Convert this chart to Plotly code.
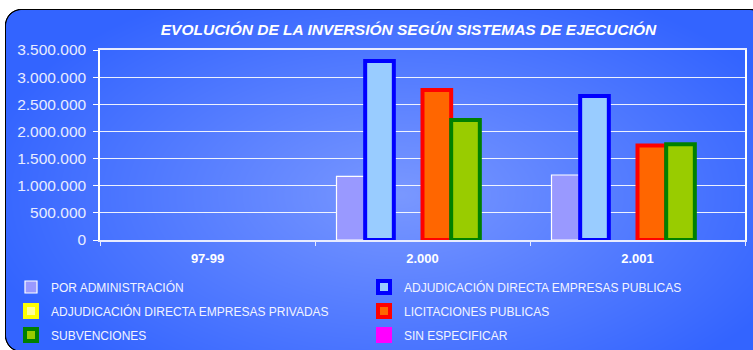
import base64
import struct
import zlib

import numpy as np
import plotly.graph_objects as go

# ---- data -------------------------------------------------------------
categories = ["97-99", "2.000", "2.001"]
por_administracion = [None, 1172000, 1197000]
adj_directa_publicas = [None, 3296000, 2654000]
adj_directa_privadas = [None, None, None]
licitaciones_publicas = [None, 2765000, 1741000]
subvenciones = [None, 2209000, 1765000]
sin_especificar = [None, None, None]
y_tick_values = [0, 500000, 1000000, 1500000, 2000000, 2500000, 3000000, 3500000]

# ---- figure geometry ----------------------------------------------------
W, H = 753, 350
ML, MR, MT, MB = 100, 8, 50, 110
PW, PH = W - ML - MR, H - MT - MB


def background_png(width, height):
    """Rounded blue panel with a soft radial gradient, as a PNG data URI."""
    ys, xs = np.mgrid[0:height, 0:width].astype(float)
    px, py = xs + 0.5, ys + 0.5
    # radial gradient
    cx, cy, rx, ry = 400.0, 195.0, 430.0, 230.0
    t = np.clip(np.sqrt(((px - cx) / rx) ** 2 + ((py - cy) / ry) ** 2), 0, 1)
    inner = np.array([0x7A, 0x98, 0xFF], float)
    outer = np.array([0x33, 0x64, 0xFF], float)
    grad = inner[None, None, :] * (1 - t[..., None]) + outer[None, None, :] * t[..., None]
    # rounded rectangle signed distance
    x0, y0, x1, y1, r = 5.5, 9.5, 766.0, 351.5, 16.0
    hx, hy = (x1 - x0) / 2, (y1 - y0) / 2
    qx = np.abs(px - (x0 + x1) / 2) - (hx - r)
    qy = np.abs(py - (y0 + y1) / 2) - (hy - r)
    d = (np.sqrt(np.maximum(qx, 0) ** 2 + np.maximum(qy, 0) ** 2)
         + np.minimum(np.maximum(qx, qy), 0) - r)
    fill_a = np.clip(0.5 - d, 0, 1)[..., None]
    stroke_a = np.clip(1.4 - np.abs(d) * 1.4, 0, 1)[..., None]
    img = 255.0 * (1 - fill_a) + grad * fill_a
    img = img * (1 - stroke_a)
    img = np.clip(img, 0, 255).astype(np.uint8)

    raw = b"".join(b"\x00" + img[row].tobytes() for row in range(height))

    def chunk(tag, data):
        c = struct.pack(">I", len(data)) + tag + data
        return c + struct.pack(">I", zlib.crc32(tag + data) & 0xFFFFFFFF)

    png = (b"\x89PNG\r\n\x1a\n"
           + chunk(b"IHDR", struct.pack(">IIBBBBB", width, height, 8, 2, 0, 0, 0))
           + chunk(b"IDAT", zlib.compress(raw, 9))
           + chunk(b"IEND", b""))
    return "data:image/png;base64," + base64.b64encode(png).decode()


series = [
    ("POR ADMINISTRACIÓN", por_administracion, "#9999FF", "#FFFFFF", 1.2, "legend"),
    ("ADJUDICACIÓN DIRECTA EMPRESAS PUBLICAS", adj_directa_publicas, "#99CCFF", "#0000FF", 4, "legend"),
    ("ADJUDICACIÓN DIRECTA EMPRESAS PRIVADAS", adj_directa_privadas, "#FFFF99", "#FFFF00", 4, "legend2"),
    ("LICITACIONES PUBLICAS", licitaciones_publicas, "#FF6600", "#FF0000", 4, "legend2"),
    ("SUBVENCIONES", subvenciones, "#99CC00", "#008000", 4, "legend3"),
    ("SIN ESPECIFICAR", sin_especificar, "#FF00FF", "#FF00FF", 4, "legend3"),
]

fig = go.Figure()
for name, vals, fill, edge, lw, leg in series:
    fig.add_trace(go.Bar(
        name=name, x=categories, y=vals,
        marker=dict(color=fill, line=dict(color=edge, width=lw)),
        legend=leg,
    ))

font_family = "Liberation Sans, Arial, sans-serif"
text_color = "#F2F4FF"


def legend_row(y_px):
    return dict(
        orientation="h",
        x=(11 - ML) / PW, xanchor="left",
        y=1 - (y_px - MT) / PH, yanchor="middle",
        entrywidth=308, entrywidthmode="pixels",
        bgcolor="rgba(0,0,0,0)",
        font=dict(family=font_family, size=12, color=text_color),
        itemclick=False, itemdoubleclick=False,
    )


fig.update_layout(
    width=W, height=H,
    margin=dict(l=ML, r=MR, t=MT, b=MB, pad=0, autoexpand=False),
    paper_bgcolor="#FFFFFF",
    plot_bgcolor="rgba(0,0,0,0)",
    separators=",.",
    barmode="group", bargap=0.2, bargroupgap=0,
    title=dict(
        text="<b><i>EVOLUCIÓN DE LA INVERSIÓN SEGÚN SISTEMAS DE EJECUCIÓN</i></b>",
        font=dict(family=font_family, size=15.5, color="#FFFFFF"),
        x=408.5 / W, xanchor="center", xref="container",
        y=1 - 30 / H, yanchor="middle", yref="container",
    ),
    showlegend=True,
    legend=legend_row(287),
    legend2=legend_row(311),
    legend3=legend_row(335),
    images=[dict(
        source=background_png(W, H),
        xref="paper", yref="paper",
        x=-ML / PW, y=1 + MT / PH,
        sizex=W / PW, sizey=H / PH,
        xanchor="left", yanchor="top",
        sizing="stretch", layer="below",
    )],
)

fig.update_xaxes(
    type="category",
    showgrid=False,
    showline=True, linecolor="#E8ECFF", linewidth=2, mirror=True,
    ticks="outside", tickson="boundaries", ticklen=4, tickcolor="#E8ECFF", tickwidth=1,
    tickfont=dict(family=font_family, size=13, color="#FFFFFF", weight="bold"),
    ticklabelstandoff=5,
)

fig.update_yaxes(
    range=[0, 3500000],
    tickvals=y_tick_values, tickformat=",d",
    showgrid=True, gridcolor="rgba(255,255,255,0.9)", gridwidth=1,
    zeroline=False,
    showline=True, linecolor="#FFFFFF", linewidth=1.5, mirror=True,
    ticks="outside", ticklen=5, tickcolor="#FFFFFF", tickwidth=1,
    tickfont=dict(family=font_family, size=15.5, color="#E8ECFF"),
    ticklabelstandoff=4,
)

fig.write_html("out.html")
